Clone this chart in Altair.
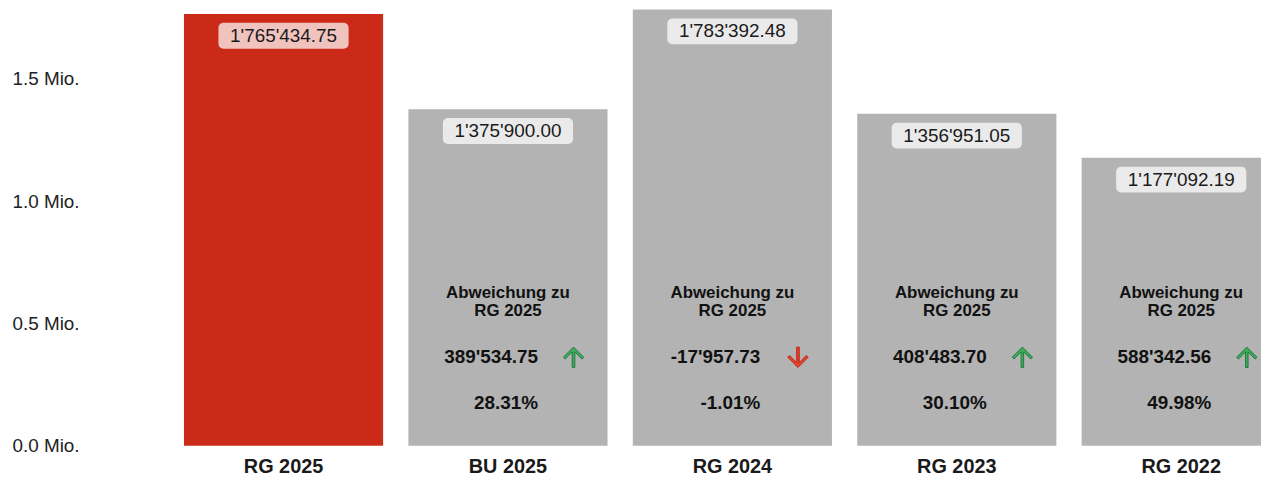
import altair as alt
import pandas as pd

categories = ["RG 2025", "BU 2025", "RG 2024", "RG 2023", "RG 2022"]
values = [1765434.75, 1375900.00, 1783392.48, 1356951.05, 1177092.19]
value_labels = ["1'765'434.75", "1'375'900.00", "1'783'392.48", "1'356'951.05", "1'177'092.19"]
dev_categories = ["BU 2025", "RG 2024", "RG 2023", "RG 2022"]
dev_labels = ["389'534.75", "-17'957.73", "408'483.70", "588'342.56"]
pct_labels = ["28.31%", "-1.01%", "30.10%", "49.98%"]
dev_direction = ["up", "down", "up", "up"]
y_ticks = [0, 500000, 1000000, 1500000]

FONT = "Liberation Sans"
RED = "#cb2a18"
GREY = "#b3b3b3"

df = pd.DataFrame({
    "cat": categories,
    "value": values,
    "label": value_labels,
    "color": [RED] + [GREY] * 4,
})
dev = pd.DataFrame({
    "cat": dev_categories,
    "dev": dev_labels,
    "pct": pct_labels,
    "dir": dev_direction,
})
dev["head"] = "Abweichung zu\nRG 2025"

x = alt.X("cat:N", sort=categories,
          scale=alt.Scale(range=[0, 1128], paddingInner=0.1126, paddingOuter=0.0535),
          axis=alt.Axis(title=None, labelAngle=0, ticks=False, domain=False,
                        labelFont=FONT, labelFontSize=20, labelFontWeight="bold",
                        labelColor="#1a1a1a", labelPadding=11))
y = alt.Y("value:Q",
          scale=alt.Scale(domain=[0, max(values)], nice=False, zero=True),
          axis=alt.Axis(title=None, values=y_ticks, ticks=False, domain=False, grid=False,
                        labelExpr="format(datum.value / 1000000, '.1f') + ' Mio.'",
                        labelAlign="left", labelBaseline="middle", labelPadding=161,
                        labelFont=FONT, labelFontSize=19, labelColor="#222222"))

base = alt.Chart(df)

bars = base.mark_bar().encode(
    x=x, y=y,
    color=alt.Color("color:N", scale=None),
)

boxes = base.mark_bar(width=131, cornerRadius=5, yOffset=9, y2Offset=35,
                      color="white", opacity=0.72).encode(
    x=alt.X("cat:N", sort=categories),
    y=alt.Y("value:Q"),
    y2=alt.Y2("value:Q"),
)

top_text = base.mark_text(font=FONT, fontSize=19, color="#1a1a1a", dy=22,
                          baseline="middle").encode(
    x=alt.X("cat:N", sort=categories),
    y=alt.Y("value:Q"),
    text="label:N",
)

dbase = alt.Chart(dev)

head = dbase.mark_text(font=FONT, fontSize=17, fontWeight="bold", color="#111111",
                       lineBreak="\n", lineHeight=18, baseline="middle").encode(
    x=alt.X("cat:N", sort=categories),
    y=alt.value(285),
    text="head:N",
)

devtext = dbase.mark_text(font=FONT, fontSize=19, fontWeight="bold", color="#111111",
                          dx=-17, baseline="middle").encode(
    x=alt.X("cat:N", sort=categories),
    y=alt.value(350),
    text="dev:N",
)

pcttext = dbase.mark_text(font=FONT, fontSize=19, fontWeight="bold", color="#111111",
                          dx=-2, baseline="middle").encode(
    x=alt.X("cat:N", sort=categories),
    y=alt.value(396),
    text="pct:N",
)

UP = "M-1,0L-0.824,0.176L-0.125,-0.521L-0.125,1L0.125,1L0.125,-0.521L0.8225,0.1775L1,0L0,-1Z"
DOWN = "M-1,0L-0.824,-0.176L-0.125,0.521L-0.125,-1L0.125,-1L0.125,0.521L0.8225,-0.1775L1,0L0,1Z"

arrows_up = dbase.transform_filter("datum.dir == 'up'").mark_point(
    shape=UP, size=420, filled=True, fill="#3faa5e", stroke="#1f7a3c",
    strokeWidth=1, opacity=1, xOffset=66).encode(
    x=alt.X("cat:N", sort=categories),
    y=alt.value(350),
)
arrows_down = dbase.transform_filter("datum.dir == 'down'").mark_point(
    shape=DOWN, size=420, filled=True, fill="#e5412c", stroke="#b8291a",
    strokeWidth=1, opacity=1, xOffset=66).encode(
    x=alt.X("cat:N", sort=categories),
    y=alt.value(350),
)

chart = alt.layer(bars, boxes, top_text, head, devtext, pcttext, arrows_up, arrows_down).properties(
    width=1096, height=439,
    autosize=alt.AutoSizeParams(type="none"),
    padding={"left": 165, "top": 0, "right": 0, "bottom": 30},
    background="white",
).configure_view(strokeWidth=0, stroke="transparent")

chart.save("out.html", embed_options={"renderer": "svg", "actions": False})
